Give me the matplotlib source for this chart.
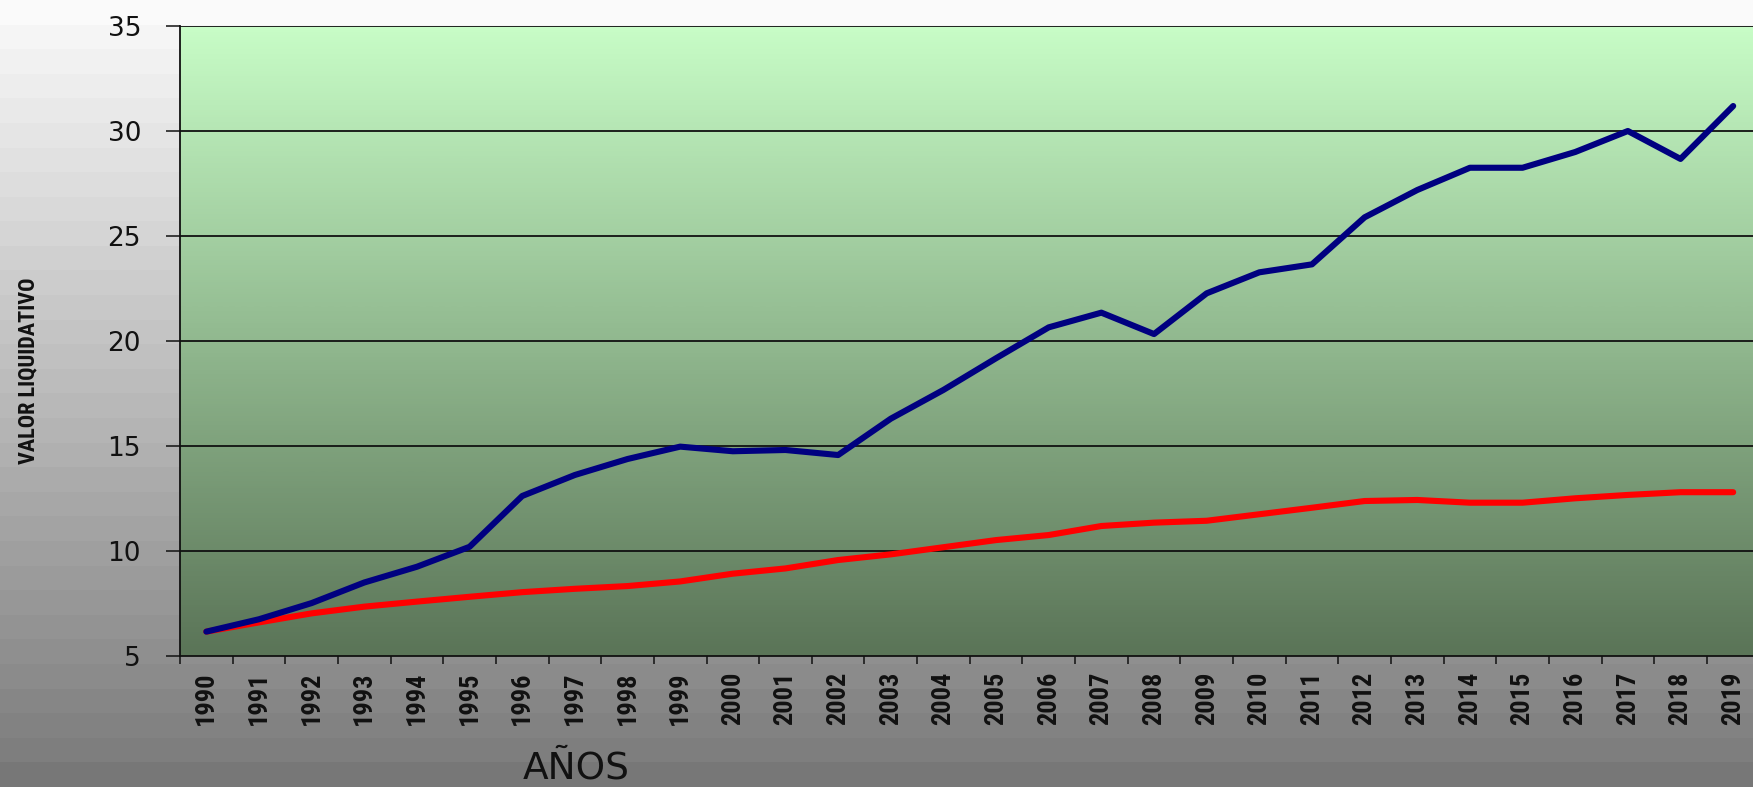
import numpy as np
import matplotlib
matplotlib.use("Agg")
import matplotlib.pyplot as plt
from matplotlib.colors import LinearSegmentedColormap
from matplotlib import font_manager as fm

years = [str(y) for y in range(1990, 2020)]
fondo = [6.16, 6.75, 7.52, 8.50, 9.25, 10.2, 12.62, 13.62, 14.38, 14.97,
         14.75, 14.81, 14.57, 16.3, 17.67, 19.18, 20.65, 21.35, 20.33, 22.27,
         23.27, 23.65, 25.89, 27.19, 28.25, 28.25, 29.0, 30.0, 28.67, 31.19]
referencia = [6.16, 6.6, 7.03, 7.35, 7.59, 7.82, 8.04, 8.2, 8.33, 8.55,
              8.92, 9.17, 9.57, 9.84, 10.18, 10.52, 10.76, 11.19, 11.35, 11.44,
              11.75, 12.06, 12.38, 12.43, 12.3, 12.3, 12.51, 12.67, 12.8, 12.8]
yticks = [5, 10, 15, 20, 25, 30, 35]


def find_condensed(bold):
    prefs = ["liberation sans narrow", "roboto condensed", "noto sans",
             "dejavu sans", "open sans", "roboto", "lato", "inter"]
    best, best_score = None, None
    for f in fm.fontManager.ttflist:
        name = f.name.lower()
        fname = f.fname.lower()
        st = f.stretch
        cond = ("narrow" in name or "condensed" in name or "narrow" in fname
                or "condensed" in fname
                or st in ("condensed", "semi-condensed", "extra-condensed",
                          "ultra-condensed")
                or (isinstance(st, (int, float)) and st < 500))
        if not cond:
            continue
        if "italic" in fname or "oblique" in fname or f.style != "normal":
            continue
        if "extracondensed" in fname or "extra-condensed" in str(st):
            continue
        w = f.weight if isinstance(f.weight, (int, float)) else (
            700 if "bold" in str(f.weight) else 400)
        if bold and w < 600:
            continue
        if not bold and (w > 500 or w < 350):
            continue
        rank = len(prefs)
        for i, p in enumerate(prefs):
            if name.startswith(p):
                rank = i
                break
        score = (rank, abs(w - (700 if bold else 400)))
        if best_score is None or score < best_score:
            best, best_score = f.fname, score
    return best


reg_path = find_condensed(False)
bold_path = find_condensed(True)

W, H = 1753, 787
fig = plt.figure(figsize=(W / 100, H / 100), dpi=100)

bg = fig.add_axes([0, 0, 1, 1], zorder=-10)
nb = 32
g = np.floor(np.linspace(0, 1, nb) * nb) / nb
bgcmap = LinearSegmentedColormap.from_list("bg", ["#fafafa", "#777777"])
bg.imshow(g.reshape(-1, 1), cmap=bgcmap, aspect="auto", extent=[0, 1, 0, 1],
          origin="upper", interpolation="nearest")
bg.set_axis_off()

left = 180 / W
bottom = (H - 656) / H
width = 30 * 52.65 / W
height = 630 / H
ax = fig.add_axes([left, bottom, width, height])

x = np.arange(len(years))
grad = np.linspace(0, 1, 64).reshape(-1, 1)
pcmap = LinearSegmentedColormap.from_list("pl", ["#c7fcc6", "#5b7558"])
ax.imshow(grad, cmap=pcmap, aspect="auto", extent=[-0.5, 29.5, 5, 35],
          origin="upper", zorder=0, interpolation="bilinear")

for yv in yticks[1:]:
    ax.axhline(yv, color="#111111", lw=1.3, zorder=1)

ax.plot(x, fondo, color="#000080", lw=4.4, solid_capstyle="round",
        solid_joinstyle="round", zorder=3)
ax.plot(x, referencia, color="#ff0000", lw=4.4, solid_capstyle="round",
        solid_joinstyle="round", zorder=2)

ax.set_xlim(-0.5, 29.5)
ax.set_ylim(5, 35)
ax.set_yticks(yticks)
ax.set_yticklabels([str(v) for v in yticks], fontsize=19,
                   family=["DejaVu Sans"], color="#111111")
ax.tick_params(axis="y", direction="out", length=10, width=1.1, pad=18,
               color="#111111")

ax.set_xticks(np.arange(-0.5, 30, 1))
ax.set_xticklabels([])
ax.tick_params(axis="x", which="major", direction="out", length=5.8, width=1.1,
               color="#111111")
ax.set_xticks(x, minor=True)
xpath = bold_path or reg_path
if xpath:
    xprop = fm.FontProperties(fname=xpath, size=19)
else:
    xprop = fm.FontProperties(family="DejaVu Sans", size=15)
ax.set_xticklabels(years, minor=True, rotation=90, fontproperties=xprop,
                   color="#111111", va="top")
ax.tick_params(axis="x", which="minor", length=0, pad=11.5)

for s in ["top", "right"]:
    ax.spines[s].set_visible(False)
for s in ["left", "bottom"]:
    ax.spines[s].set_color("#111111")
    ax.spines[s].set_linewidth(1.3)

if bold_path:
    lprop = fm.FontProperties(fname=bold_path, size=16)
else:
    lprop = fm.FontProperties(family="DejaVu Sans", weight="bold", size=12)
fig.text(28.5 / W, 1 - 371 / H, "VALOR LIQUIDATIVO", rotation=90,
         ha="center", va="center", fontproperties=lprop, color="#111111")
fig.text(576 / W, 0.5 / H, "AÑOS", ha="center", va="bottom", fontsize=27,
         family=["DejaVu Sans"], color="#111111")

fig.savefig("out.png", dpi=100)
